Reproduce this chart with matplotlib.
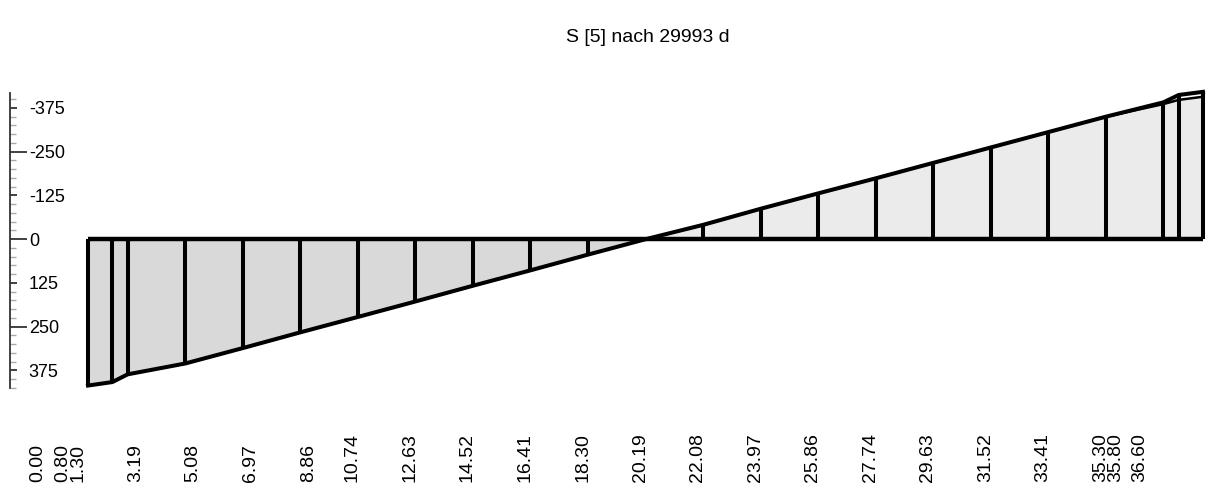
import matplotlib
matplotlib.use("Agg")
import matplotlib.pyplot as plt
import matplotlib.transforms as mtransforms
import numpy as np

plt.rcParams['font.family'] = ['Liberation Sans', 'DejaVu Sans']

# Stations along the member and the section force S at each station
stations = [0.00, 0.80, 1.30, 3.19, 5.08, 6.97, 8.86, 10.74, 12.63, 14.52,
            16.41, 18.30, 20.19, 22.08, 23.97, 25.86, 27.74, 29.63, 31.52,
            33.41, 35.30, 35.80, 36.60]
values = [418, 408, 386, 355, 311, 266, 222, 178, 133, 89,
          44, 0, -41, -87, -131, -174, -218, -262, -306,
          -350, -391, -412, -421]
# second trace that only departs from the main one at the right end
values_alt = [418, 408, 386, 355, 311, 266, 222, 178, 133, 89,
              44, 0, -41, -87, -131, -174, -218, -262, -306,
              -350, -386, -398, -407]
station_labels = ["%.2f" % s for s in stations]

major_ticks = [-375, -250, -125, 0, 125, 250, 375]
major_labels = ["-375", "-250", "-125", "0", "125", "250", "375"]
long_tick_values = [-250, 0, 250]
minor_ticks = list(range(-400, 426, 25))

title = "S [5] nach 29993 d"

W, H, DPI = 1208, 495, 100
fig = plt.figure(figsize=(W / DPI, H / DPI), dpi=DPI)
fig.patch.set_facecolor("white")

ax = fig.add_axes([10 / W, (H - 388) / H, 1195 / W, 295 / H])
ax.set_xlim(-2.561, 36.666)
ax.set_ylim(423.4, -417.7)

x = np.array(stations)
v = np.array(values)
va = np.array(values_alt)

ax.fill_between(x, 0, v, where=v >= 0, interpolate=True,
                facecolor="#d9d9d9", edgecolor="none", zorder=1, clip_on=False)
ax.fill_between(x, 0, va, where=va <= 0, interpolate=True,
                facecolor="#ebebeb", edgecolor="none", zorder=1, clip_on=False)

lw = 2.9
ax.vlines(x, 0, v, colors="black", linewidth=lw, zorder=3, clip_on=False)
ax.hlines(0, x[0], x[-1], colors="black", linewidth=3.2, zorder=4, clip_on=False)
ax.plot(x, v, color="black", linewidth=lw, zorder=4, clip_on=False,
        solid_joinstyle="round")
ax.plot(x, va, color="black", linewidth=1.8, zorder=4, clip_on=False)

# y axis: spine on the left, ticks pointing inward, labels to the right
for side in ("top", "right", "bottom"):
    ax.spines[side].set_visible(False)
ax.spines["left"].set_color("#333333")
ax.spines["left"].set_linewidth(1.3)
ax.patch.set_alpha(0)
ax.set_xticks([])
ax.set_yticks(major_ticks)
ax.set_yticklabels(major_labels)
ax.set_yticks(minor_ticks, minor=True)
ax.tick_params(axis="y", which="major", direction="in", length=5.0,
               width=1.3, color="#333333", pad=-13.5, labelsize=13)
ax.tick_params(axis="y", which="minor", direction="in", length=4.0,
               width=1.0, color="#aaaaaa")
for lab in ax.get_yticklabels():
    lab.set_horizontalalignment("left")
for t, val in zip(ax.yaxis.get_major_ticks(), major_ticks):
    if val in long_tick_values:
        t.tick1line.set_markersize(12.5)

# rotated station labels beneath the plot
for s, lab in zip(stations, station_labels):
    shift = mtransforms.ScaledTranslation((3 - 13.2 * len(lab)) / DPI, 0,
                                          fig.dpi_scale_trans)
    tr = mtransforms.blended_transform_factory(ax.transData, fig.transFigure) + shift
    ax.text(s, 13 / H, lab, transform=tr, rotation=90, ha="center", va="bottom",
            fontsize=14, color="black", clip_on=False)

fig.text(648 / W, (H - 38) / H, title, ha="center", va="center", fontsize=14)

fig.savefig("out.png", dpi=DPI, facecolor="white")
